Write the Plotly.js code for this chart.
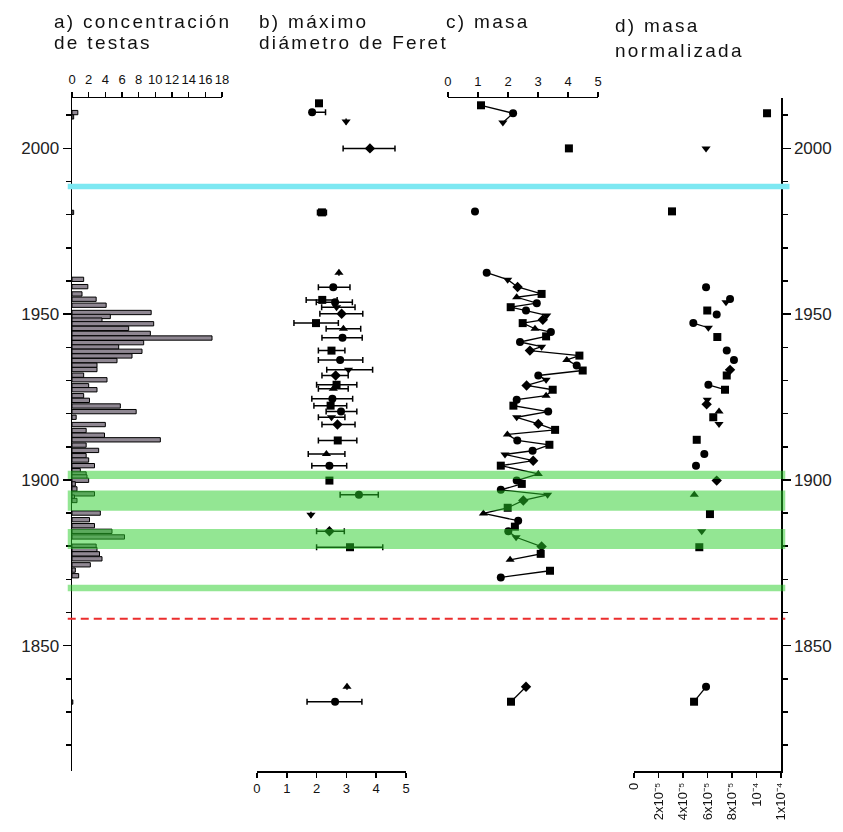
<!DOCTYPE html>
<html><head><meta charset="utf-8">
<script src="https://cdn.plot.ly/plotly-3.0.1.min.js"></script>
<style>html,body{margin:0;padding:0;background:#fff} .annotation-text{letter-spacing:2.3px}</style>
</head><body><div id="chart" style="width:843px;height:832px"></div>
<script>
// a) concentración de testas
const concYears = [2010.8,2009.5,1980.7,1960.5,1958.3,1956.1,1954.5,1952.7,1950.5,1949.3,1948.2,1947.1,1945.7,1944.2,1942.8,1941.4,1940.1,1938.8,1937.4,1936.0,1934.6,1933.3,1931.6,1930.2,1928.4,1927.2,1925.4,1924.0,1922.3,1920.6,1918.9,1916.7,1914.9,1913.5,1912.1,1910.5,1908.9,1907.3,1906.0,1904.3,1902.8,1901.8,1900.9,1899.9,1898.8,1897.3,1895.8,1894.8,1893.8,1890.0,1888.0,1886.2,1884.5,1882.8,1880.0,1879.0,1877.7,1876.2,1874.4,1872.8,1871.1,1833.0];
const concValues = [0.7,0.2,0.2,1.4,1.9,1.2,2.9,4.1,9.5,4.6,3.6,9.8,6.8,9.4,16.8,8.6,5.6,8.4,7.2,5.4,3.0,3.0,1.4,4.2,2.0,3.0,1.4,2.1,5.8,7.7,0.5,4.0,1.7,3.9,10.6,1.7,3.2,1.7,2.0,2.7,1.0,1.7,1.8,2.0,0.4,0.6,2.7,0.3,0.6,3.4,2.1,2.7,4.8,6.3,2.9,3.0,3.3,3.6,2.2,0.4,0.8,0.1];
const concTicks = [0,2,4,6,8,10,12,14,16,18];

// b) máximo diámetro de Feret
const feretYears = [2013.6,2010.9,2008.1,2000.0,1980.7,1962.5,1958.1,1954.3,1953.6,1952.1,1950.1,1947.3,1945.6,1942.9,1939.0,1936.2,1933.2,1931.5,1928.7,1927.5,1924.5,1922.4,1920.6,1918.9,1916.7,1911.9,1907.8,1904.3,1899.8,1895.5,1889.5,1884.5,1879.7,1837.6,1833.1];
const feretValues = [2.08,1.85,2.99,3.79,2.18,2.75,2.56,2.19,2.62,2.67,2.84,1.98,2.90,2.87,2.50,2.79,3.07,2.64,2.67,2.56,2.53,2.47,2.82,2.50,2.70,2.71,2.33,2.43,2.43,3.42,1.81,2.43,3.12,3.02,2.62];
const feretErrMinus = [0,0,0,0.90,0.15,0,0.50,0.54,0.63,0.50,0.73,0.74,0.58,0.69,0.44,0.73,0.73,0.46,0.67,0.50,0.69,0.56,0.50,0.44,0.52,0.65,0.61,0.59,0,0.63,0,0.43,1.12,0,0.94];
const feretErrPlus  = [0,0.45,0,0.84,0.15,0,0.56,0.50,0.58,0.62,0.71,0.75,0.58,0.66,0.45,0.76,0.81,0.42,0.68,0.50,0.68,0.54,0.53,0.45,0.59,0.64,0.62,0.58,0,0.65,0,0.50,1.10,0,0.90];
const feretTicks = [0,1,2,3,4,5];

// c) masa  (null = break in the line)
const masaYears = [2013.0,2010.6,2007.8,null,2000.0,null,1981.0,null,1962.5,1960.4,1958.2,1956.1,1955.1,1953.3,1952.1,1951.1,1949.6,1948.3,1947.3,1945.6,1944.6,1943.3,1941.6,1940.2,1939.0,1937.5,1936.2,1934.5,1933.0,1931.5,1930.2,1928.5,1927.2,1925.4,1924.2,1922.4,1920.6,1918.9,1916.9,1915.1,1913.7,1911.9,1910.6,1908.8,1907.7,1905.8,1904.3,1901.8,1899.8,1898.8,1897.0,1895.5,1893.8,1891.6,1889.9,1887.7,1885.9,1884.5,1882.7,1879.9,1877.7,1875.9,null,1872.6,1870.6,null,1837.6,1833.1];
const masaValues = [1.10,2.17,1.83,null,4.03,null,0.90,null,1.29,1.99,2.32,3.12,2.29,2.96,2.09,2.60,3.29,3.16,2.49,2.90,3.43,3.27,2.40,3.12,2.73,4.38,3.96,4.29,4.49,3.01,3.27,2.62,3.49,3.27,2.29,2.18,3.34,2.29,3.01,3.57,1.98,2.31,3.38,2.82,1.90,2.84,1.76,3.01,2.29,2.46,1.76,3.32,2.51,1.99,1.18,2.34,2.23,2.01,2.27,3.12,3.09,2.07,null,3.40,1.76,null,2.60,2.10];
const masaTicks = [0,1,2,3,4,5];

// d) masa normalizada (null = break in the line)
const normYears = [2010.6,null,2000.0,null,1981.0,null,1958.1,null,1954.6,1953.6,null,1951.1,null,1949.9,null,1947.3,1945.9,null,1943.1,null,1939.0,null,1936.2,null,1933.2,1931.5,null,1928.7,1927.2,null,1924.2,1922.8,null,1920.6,null,1918.9,null,1916.9,null,1912.1,null,1907.8,null,1904.3,null,1899.8,null,1895.5,null,1889.7,null,1884.5,null,1879.7,null,1837.6,1833.1];
const normValues = [1.086e-4,null,5.88e-5,null,3.1e-5,null,5.88e-5,null,7.84e-5,7.51e-5,null,5.98e-5,null,6.75e-5,null,4.84e-5,6.07e-5,null,6.8e-5,null,7.57e-5,null,8.16e-5,null,7.84e-5,7.57e-5,null,6.07e-5,7.43e-5,null,5.98e-5,5.93e-5,null,6.94e-5,null,6.47e-5,null,6.94e-5,null,5.12e-5,null,5.74e-5,null,5.06e-5,null,6.75e-5,null,4.92e-5,null,6.2e-5,null,5.53e-5,null,5.33e-5,null,5.88e-5,4.9e-5];
const normTicks = [0,2e-5,4e-5,6e-5,8e-5,1e-4,1.2e-4];
const normTickText = ['0','2x10⁻⁵','4x10⁻⁵','6x10⁻⁵','8x10⁻⁵','10⁻⁴','1x10⁻⁴'];

// horizontal reference bands (years)
const greenBands = [[1900.3,1902.8],[1890.7,1896.8],[1879.2,1885.2],[1866.4,1868.4]];
const cyanBand = [1987.7,1989.3];
const redLineYear = 1858.1;

const symbolCycle = ['square','circle','triangle-down','diamond','square','triangle-up','circle'];
const syms = n => Array.from({length:n},(_,i)=>symbolCycle[i%symbolCycle.length]);

const FONT = 'Liberation Sans, Arial, sans-serif';
const mk = {color:'#000', size:8, line:{width:0}};

const traces = [
  {type:'bar', orientation:'h', x:concValues, y:concYears, xaxis:'x', yaxis:'y', width:1.3,
   marker:{color:'#8f8792', line:{color:'#000', width:1}}, hoverinfo:'skip'},
  {type:'scatter', mode:'markers', x:feretValues, y:feretYears, xaxis:'x2', yaxis:'y',
   marker:Object.assign({}, mk, {symbol:syms(feretYears.length)}),
   error_x:{type:'data', symmetric:false, array:feretErrPlus, arrayminus:feretErrMinus, color:'#000', thickness:1.5, width:3}},
  {type:'scatter', mode:'lines+markers', x:masaValues, y:masaYears, xaxis:'x3', yaxis:'y', connectgaps:false,
   line:{color:'#000', width:1.3}, marker:Object.assign({}, mk, {symbol:syms(masaYears.length)})},
  {type:'scatter', mode:'lines+markers', x:normValues, y:normYears, xaxis:'x4', yaxis:'y', connectgaps:false,
   line:{color:'#000', width:1.3}, marker:Object.assign({}, mk, {symbol:syms(normYears.length)})},
  {type:'scatter', mode:'markers', x:normValues, y:normYears, xaxis:'x4', yaxis:'y2', opacity:0, hoverinfo:'skip'}
];

const yr = [1812.2, 2015.2];
const axBase = {showline:true, linecolor:'#000', linewidth:1.5, ticks:'outside', ticklen:5, tickwidth:1.5,
  tickcolor:'#000', showgrid:false, zeroline:false, fixedrange:true,
  tickfont:{family:FONT, size:13, color:'#111'}};

const shapes = [];
greenBands.forEach(b => shapes.push({type:'rect', xref:'paper', yref:'y', x0:-0.006, x1:1.006, y0:b[0], y1:b[1],
  fillcolor:'rgba(40,205,40,0.5)', line:{width:0}, layer:'above'}));
shapes.push({type:'rect', xref:'paper', yref:'y', x0:-0.006, x1:1.012, y0:cyanBand[0], y1:cyanBand[1],
  fillcolor:'rgb(125,232,242)', line:{width:0}, layer:'above'});
shapes.push({type:'line', xref:'paper', yref:'y', x0:-0.006, x1:1.006, y0:redLineYear, y1:redLineYear,
  line:{color:'rgb(235,45,45)', width:2, dash:'8px,5px'}, layer:'above'});

const tfont = {family:FONT, size:19, color:'#111'};
const ann = (x, y, t) => ({xref:'paper', yref:'paper', x:x, y:y, xanchor:'left', yanchor:'middle',
  text:t, showarrow:false, font:tfont, align:'left'});
const px2x = px => (px-72)/709;
const py2y = py => (771-py)/673;

const layout = {
  width:843, height:832, margin:{l:72, r:62, t:98, b:61},
  paper_bgcolor:'#fff', plot_bgcolor:'rgba(0,0,0,0)', showlegend:false, bargap:0,
  font:{family:FONT},
  xaxis:Object.assign({}, axBase, {domain:[0,0.2116], range:[0,18], side:'top', anchor:'y',
     tickmode:'array', tickvals:concTicks, ticklabelstandoff:2}),
  xaxis2:Object.assign({}, axBase, {domain:[0.2609,0.4711], range:[0,5], side:'bottom', anchor:'y',
     tickmode:'array', tickvals:feretTicks}),
  xaxis3:Object.assign({}, axBase, {domain:[0.5303,0.7419], range:[0,5], side:'top', anchor:'y',
     tickmode:'array', tickvals:masaTicks}),
  xaxis4:Object.assign({}, axBase, {domain:[0.7927,1], range:[0,1.2e-4], side:'bottom', anchor:'y',
     tickmode:'array', tickvals:normTicks, ticktext:normTickText, tickangle:-90}),
  yaxis:Object.assign({}, axBase, {range:yr, side:'left', anchor:'x', tickmode:'linear', tick0:1850, dtick:50,
     ticklen:8, tickfont:{family:FONT, size:17, color:'#222'},
     minor:{dtick:10, tick0:1800, ticks:'outside', ticklen:5, tickwidth:1.5, tickcolor:'#000'}}),
  yaxis2:Object.assign({}, axBase, {range:yr, side:'right', overlaying:'y', anchor:'x4', tickmode:'linear', tick0:1850, dtick:50,
     ticklen:8, tickfont:{family:FONT, size:17, color:'#222'},
     minor:{dtick:10, tick0:1800, ticks:'outside', ticklen:5, tickwidth:1.5, tickcolor:'#000'}}),
  shapes:shapes,
  annotations:[
    ann(px2x(52), py2y(22), 'a) concentración'),
    ann(px2x(52), py2y(42), 'de testas'),
    ann(px2x(257), py2y(22), 'b) máximo'),
    ann(px2x(257), py2y(42), 'diámetro de Feret'),
    ann(px2x(444), py2y(22), 'c) masa'),
    ann(px2x(613), py2y(26), 'd) masa'),
    ann(px2x(613), py2y(50), 'normalizada')
  ]
};

Plotly.newPlot('chart', traces, layout, {staticPlot:true, displayModeBar:false});
</script></body></html>
